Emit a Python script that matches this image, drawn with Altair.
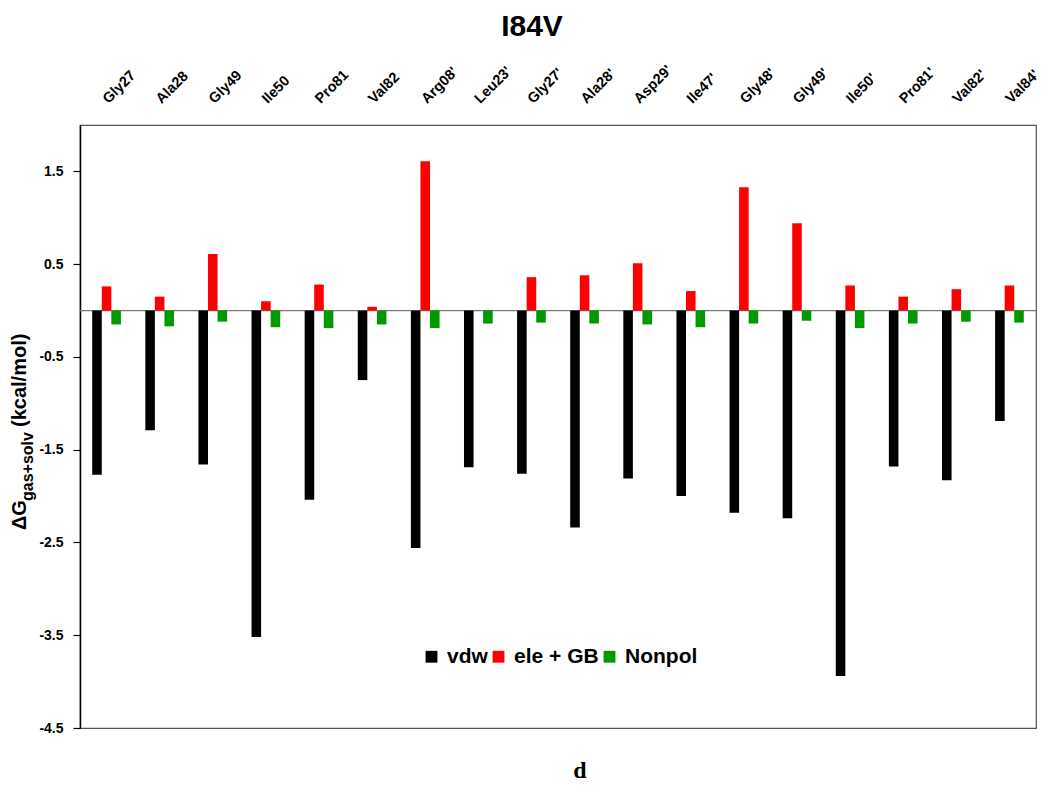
import altair as alt
import pandas as pd

residues = ["Gly27", "Ala28", "Gly49", "Ile50", "Pro81", "Val82", "Arg08'", "Leu23'", "Gly27'",
            "Ala28'", "Asp29'", "Ile47'", "Gly48'", "Gly49'", "Ile50'", "Pro81'", "Val82'", "Val84'"]
vdw = [-1.77, -1.29, -1.66, -3.52, -2.04, -0.75, -2.56, -1.69, -1.76,
       -2.34, -1.81, -2.00, -2.18, -2.24, -3.94, -1.68, -1.83, -1.19]
ele_gb = [0.26, 0.15, 0.61, 0.10, 0.28, 0.04, 1.61, 0.00, 0.36,
          0.38, 0.51, 0.21, 1.33, 0.94, 0.27, 0.15, 0.23, 0.27]
nonpol = [-0.15, -0.17, -0.12, -0.18, -0.19, -0.15, -0.19, -0.14, -0.13,
          -0.14, -0.15, -0.18, -0.14, -0.11, -0.19, -0.14, -0.12, -0.13]
components = ["vdw", "ele + GB", "Nonpol"]
colors = ["#000000", "#ff0000", "#009900"]
y_ticks = [1.5, 0.5, -0.5, -1.5, -2.5, -3.5, -4.5]

rows = []
for i, r in enumerate(residues):
    rows.append({"res": r, "comp": "vdw", "val": vdw[i]})
    rows.append({"res": r, "comp": "ele + GB", "val": ele_gb[i]})
    rows.append({"res": r, "comp": "Nonpol", "val": nonpol[i]})
df = pd.DataFrame(rows)

W, H = 956, 603
SANS = "Liberation Sans, Arial, Helvetica, sans-serif"

yscale = alt.Scale(domain=[-4.5, 2.0], nice=False, zero=False)

bars = alt.Chart(df).mark_bar().encode(
    x=alt.X("res:N", sort=residues,
            scale=alt.Scale(paddingInner=0.46, paddingOuter=0.23),
            axis=alt.Axis(orient="top", title=None, domain=False, ticks=False,
                          labelAngle=-45, labelAlign="left", labelBaseline="middle",
                          labelPadding=24, labelOffset=-1, labelFont=SANS, labelFontSize=14.5,
                          labelFontWeight="bold", labelColor="black")),
    xOffset=alt.XOffset("comp:N", sort=components, scale=alt.Scale(paddingInner=0, paddingOuter=0)),
    y=alt.Y("val:Q", scale=yscale,
            axis=alt.Axis(values=y_ticks, title=None, grid=False,
                          labelExpr="datum.value < 0 ? '-' + format(abs(datum.value), '.1f') : format(datum.value, '.1f')",
                          domainColor="black", domainWidth=1.5, tickColor="black",
                          tickSize=7, tickWidth=1.2, labelPadding=10, labelFont=SANS,
                          labelFontSize=14, labelFontWeight="bold", labelColor="black")),
    color=alt.Color("comp:N", sort=components,
                    scale=alt.Scale(domain=components, range=colors),
                    legend=alt.Legend(title=None, orient="none", legendX=341, legendY=521,
                                      direction="horizontal", symbolType="square",
                                      symbolSize=140, symbolStrokeWidth=0, labelFont=SANS,
                                      labelFontSize=21, labelFontWeight="bold",
                                      labelColor="black", labelOffset=5, columnPadding=0)),
)

zero = alt.Chart(pd.DataFrame({"z": [0.0]})).mark_rule(color="#777777", strokeWidth=1.3).encode(
    y=alt.Y("z:Q", scale=yscale)
)

title = alt.Chart(pd.DataFrame({"t": ["I84V"]})).mark_text(
    font=SANS, fontSize=30, fontWeight="bold", color="black", align="center", baseline="alphabetic"
).encode(text="t:N", x=alt.value(452), y=alt.value(-89))

ytitle_main = alt.Chart(pd.DataFrame({"t": ["ΔG"]})).mark_text(
    font=SANS, fontSize=20, fontWeight="bold", color="black", align="left",
    baseline="alphabetic", angle=270
).encode(text="t:N", x=alt.value(-54), y=alt.value(405))

ytitle_sub = alt.Chart(pd.DataFrame({"t": ["gas+solv"]})).mark_text(
    font=SANS, fontSize=16, fontWeight="bold", color="black", align="left",
    baseline="alphabetic", angle=270
).encode(text="t:N", x=alt.value(-47), y=alt.value(376))

ytitle_unit = alt.Chart(pd.DataFrame({"t": ["(kcal/mol)"]})).mark_text(
    font=SANS, fontSize=20, fontWeight="bold", color="black", align="left",
    baseline="alphabetic", angle=270
).encode(text="t:N", x=alt.value(-54), y=alt.value(302))

panel = alt.Chart(pd.DataFrame({"t": ["d"]})).mark_text(
    font="Liberation Serif, Times New Roman, serif", fontSize=24, fontWeight="bold",
    color="black", align="center", baseline="alphabetic"
).encode(text="t:N", x=alt.value(500), y=alt.value(653))

chart = alt.layer(zero, bars, title, ytitle_main, ytitle_sub, ytitle_unit, panel).properties(
    width=W, height=H,
    autosize=alt.AutoSizeParams(type="none"),
    padding={"left": 72, "top": 117, "right": 6, "bottom": 56},
).configure_view(stroke="#555555", strokeWidth=1.2)

chart.save("out.html", embed_options={"renderer": "svg", "actions": False})
